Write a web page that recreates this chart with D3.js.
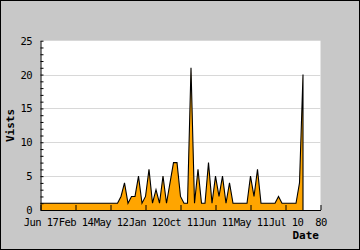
<!DOCTYPE html>
<html>
<head>
<meta charset="utf-8">
<script src="https://cdn.jsdelivr.net/npm/d3@7"></script>
<style>
html,body{margin:0;padding:0;background:#fff;}
svg{display:block;}
text{font-family:"DejaVu Sans Mono",monospace;}
</style>
</head>
<body>
<svg id="chart" width="360" height="250"></svg>
<script>
// ---- data ----
const visits = [1,1,1,1,1,1,1,1,1,1,1,1,1,1,1,1,1,1,1,1,1,1,1,
  2,4,1,2,2,5,1,2,6,1,3,1,5,1,4,7,7,2,1,1,21,1,6,1,1,7,1,5,2,5,1,4,
  1,1,1,1,1,5,2,6,1,1,1,1,1,2,1,1,1,1,1,4,20];
const xTickValues = [0,10,20,30,40,50,60,70,80];
const xTickLabels = ["Jun 17","Feb 14","May 12","Jan 12","Oct 11","Jun 11","May 11","Jul 10","80"];
const yTickValues = [0,5,10,15,20,25];
const yTitle = "Vists";
const xTitle = "Date";

(function(){
const W = 360, H = 250;
const svg = d3.select("#chart");
const pL = 40.5, pR = 320.5, pT = 40.7, pB = 210;

// background + border
svg.append("rect").attr("x",0.5).attr("y",0.5).attr("width",W-1).attr("height",H-1)
  .attr("fill","#c8c8c8").attr("stroke","#000").attr("stroke-width",1);
svg.append("rect").attr("x",pL).attr("y",pT).attr("width",pR-pL).attr("height",pB-pT)
  .attr("fill","#fff");

const x = d3.scaleLinear().domain([0,80]).range([pL,pR]);
const y = d3.scaleLinear().domain([0,25]).range([pB,pT]);

// gridlines
svg.append("g").selectAll("line").data(yTickValues.filter(v=>v>0 && v<25)).join("line")
  .attr("x1",pL).attr("x2",pR)
  .attr("y1",d=>Math.round(y(d))+0.5).attr("y2",d=>Math.round(y(d))+0.5)
  .attr("stroke","#d8d8d8").attr("stroke-width",1);

// area
const pts = visits.map((v,i)=>[i,v]);
const area = d3.area().x(d=>x(d[0])).y0(y(0)).y1(d=>y(d[1]));
svg.append("path").datum(pts).attr("d",area).attr("fill","#ffa500");
const lastI = visits.length-1;
const linePts = pts.concat([[lastI,0]]);
const line = d3.line().x(d=>x(d[0])).y(d=>y(d[1]));
svg.append("path").datum(linePts).attr("d",line)
  .attr("fill","none").attr("stroke","#000").attr("stroke-width",1.1);

// y axis
const yAxis = d3.axisLeft(y).tickValues(d3.range(0,26,1)).tickSize(-3).tickSizeOuter(0).tickFormat("");
const gy = svg.append("g").attr("transform",`translate(${pL},0)`).call(yAxis);
gy.select(".domain").attr("stroke","#000");
gy.selectAll(".tick line").attr("stroke","#000");
svg.append("g").selectAll("text").data(yTickValues).join("text")
  .attr("x",32).attr("y",d=>y(d)+4).attr("text-anchor","end")
  .attr("font-size","10.5px").attr("letter-spacing","-0.6px").attr("fill","#000")
  .text(d=>d);

// x axis
const xAxis = d3.axisBottom(x).tickValues(xTickValues).tickSize(-5).tickSizeOuter(0)
  .tickFormat((d,i)=>xTickLabels[i]);
const gx = svg.append("g").attr("transform",`translate(0,${pB})`).call(xAxis);
gx.select(".domain").attr("stroke","#000");
gx.selectAll(".tick line").attr("stroke","#000");
gx.selectAll(".tick text").attr("y",15.5).attr("dy",0)
  .attr("font-family","DejaVu Sans Mono, monospace").attr("font-size","10.5px")
  .attr("letter-spacing","-0.6px").attr("fill","#000");

// titles
svg.append("text").attr("x",319).attr("y",239).attr("text-anchor","end")
  .attr("font-size","11px").attr("font-weight","bold").text(xTitle);
svg.append("text").attr("transform","translate(14,125.5) rotate(-90)")
  .attr("text-anchor","middle").attr("font-size","11px").attr("font-weight","bold").text(yTitle);
})();
</script>
</body>
</html>
